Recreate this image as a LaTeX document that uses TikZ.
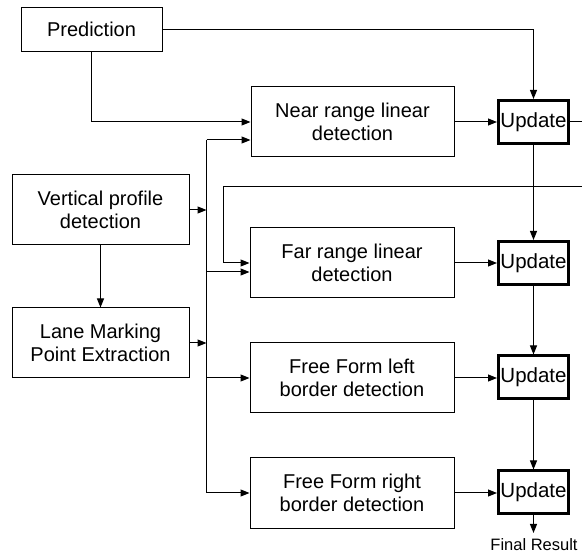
\documentclass[tikz,border=0pt]{standalone}
\usepackage{fontspec}
\setmainfont{Liberation Sans}
\usetikzlibrary{arrows.meta}
\begin{document}
\begin{tikzpicture}[x=1pt,y=-1pt,
  box/.style={draw,line width=1pt,inner sep=0pt,align=center,font=\fontsize{20}{23.3}\selectfont},
  upd/.style={draw,line width=3pt,inner sep=0pt,minimum width=70pt,minimum height=43pt,font=\fontsize{20.5}{23}\selectfont},
  conn/.style={line width=1pt},
  arr/.style={conn,-{Triangle[length=9pt,width=7pt]}}]
\useasboundingbox (0,0) rectangle (582,556);
\node[box,minimum width=141pt,minimum height=44pt] (pred) at (91.5,29.5) {Prediction};
\node[box,minimum width=177pt,minimum height=70pt] (vert) at (100.5,210) {Vertical profile\\detection};
\node[box,minimum width=177pt,minimum height=70pt] (lane) at (100.5,343) {Lane Marking\\Point Extraction};
\node[box,minimum width=203pt,minimum height=70pt] (near) at (352.5,122) {Near range linear\\detection};
\node[box,minimum width=204pt,minimum height=70pt] (far) at (352,263) {Far range linear\\detection};
\node[box,minimum width=204pt,minimum height=70pt] (ffl) at (352,378) {Free Form left\\border detection};
\node[box,minimum width=204pt,minimum height=71pt] (ffr) at (352,493) {Free Form right\\border detection};
\node[upd] (u1) at (533.5,122) {Update};
\node[upd] (u2) at (533.5,263) {Update};
\node[upd] (u3) at (533.5,377.5) {Update};
\node[upd] (u4) at (533.5,492.5) {Update};
\coordinate (bt) at (206.5,140);
\coordinate (bf) at (206.5,272);
\coordinate (re1) at (582,122);
\coordinate (re2) at (582,187);
\coordinate (fb) at (223,187);
\coordinate (fr) at (533.5,533);
\node[font=\fontsize{16.5}{19}\selectfont,inner sep=0pt] (res) at (534,545) {Final Result};
% connectors
\draw[arr] (pred.east) -| (u1.north);
\draw[arr] (pred.south) |- (near.west);
\draw[conn] (bt) -- (bt |- ffr.west);
\draw[arr] (bt) -- (bt -| near.west);
\draw[arr] (bf) -- (bf -| far.west);
\draw[arr] (bt |- ffl.west) -- (ffl.west);
\draw[arr] (bt |- ffr.west) -- (ffr.west);
\draw[arr] (vert.east) -- (vert.east -| bt);
\draw[arr] (lane.east) -- (lane.east -| bt);
\draw[arr] (vert.south) -- (lane.north);
\draw[arr] (near.east) -- (near.east -| u1.west);
\draw[arr] (far.east) -- (far.east -| u2.west);
\draw[arr] (ffl.east) -- (ffl.east -| u3.west);
\draw[arr] (ffr.east) -- (ffr.east -| u4.west);
\draw[conn] (u1.east) -- (re1);
\draw[arr] (re2) -- (fb) |- (far.west);
\draw[arr] (u1.south) -- (u2.north);
\draw[arr] (u2.south) -- (u3.north);
\draw[arr] (u3.south) -- (u4.north);
\draw[arr] (u4.south) -- (fr);
\end{tikzpicture}
\end{document}
